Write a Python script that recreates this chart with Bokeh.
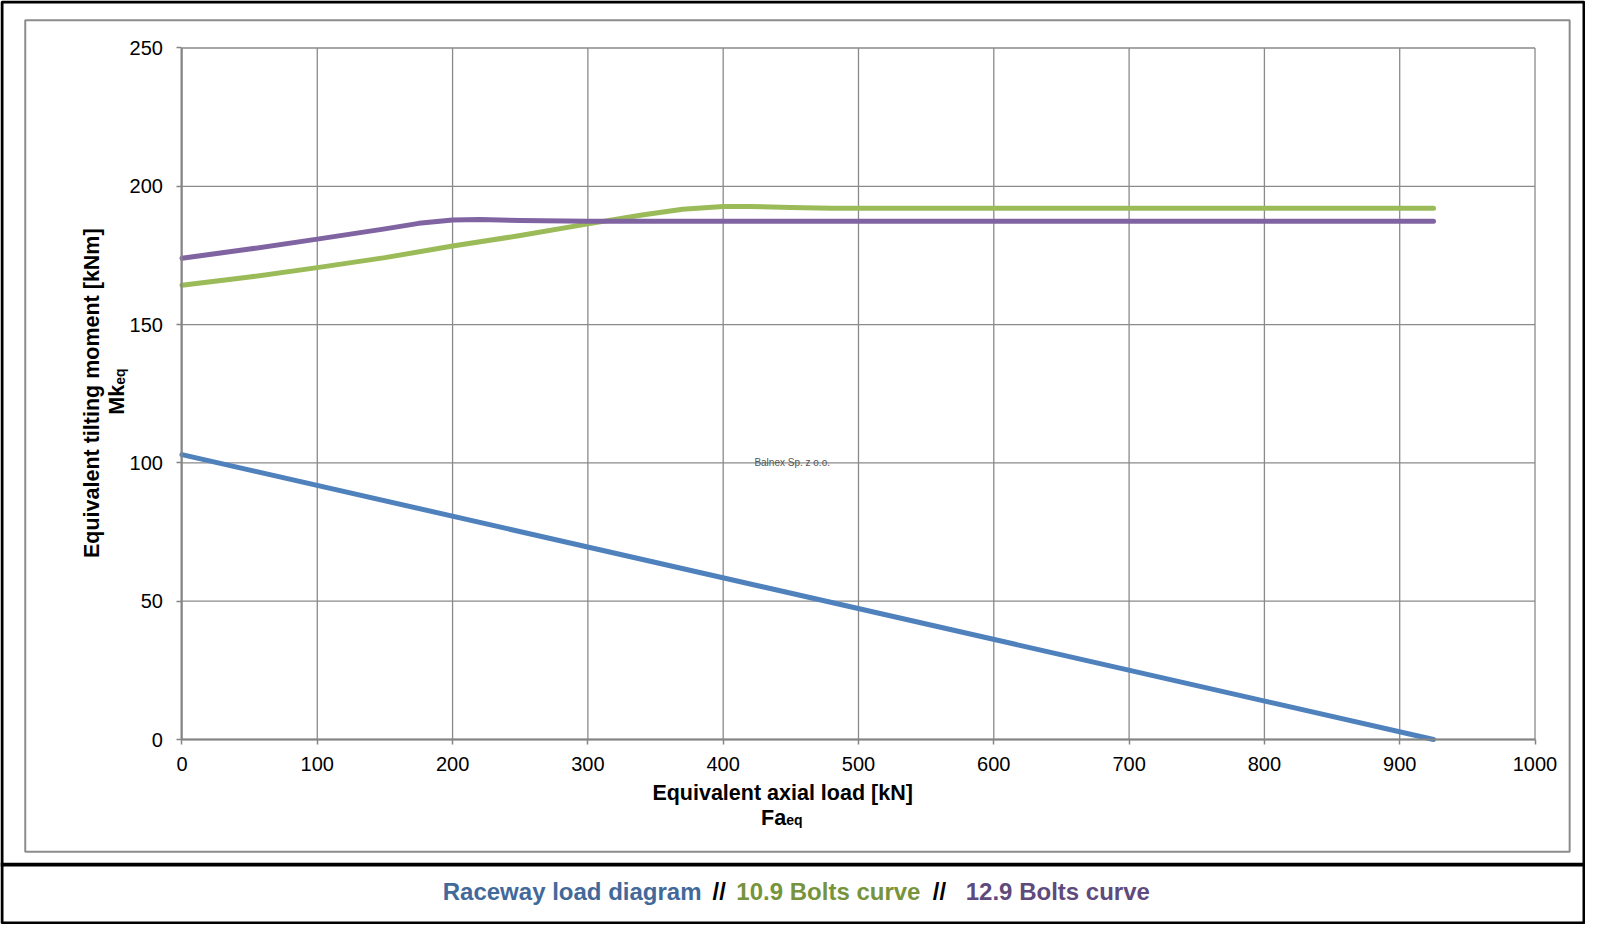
import math
from bokeh.plotting import figure
from bokeh.models import Range1d, FixedTicker, Label, BoxAnnotation, LinearAxis
from bokeh.embed import file_html
from bokeh.resources import INLINE

# ---------------- data ----------------
x_ticks = [0, 100, 200, 300, 400, 500, 600, 700, 800, 900, 1000]
y_ticks = [0, 50, 100, 150, 200, 250]

raceway_x = [0, 925]
raceway_y = [103, 0]

bolts109_x = [0, 50, 100, 150, 200, 250, 300, 340, 370, 400, 420, 450, 480, 925]
bolts109_y = [164.2, 167.2, 170.6, 174.2, 178.4, 182.2, 186.4, 189.6, 191.7, 192.7, 192.7, 192.3, 192.1, 192.1]

bolts129_x = [0, 50, 100, 150, 175, 200, 220, 250, 300, 925]
bolts129_y = [174.0, 177.3, 180.9, 184.6, 186.6, 187.8, 188.0, 187.6, 187.4, 187.4]

x_title = "Equivalent axial load [kN]"
y_title = "Equivalent tilting moment [kNm]"
legend_parts = ["Raceway load diagram", "//", "10.9 Bolts curve", "//", "12.9 Bolts curve"]
watermark = "Balnex Sp. z o.o."

# ---------------- layout (pixels) ----------------
W, H = 1585, 924
SX, SY = W / 1601.0, H / 940.0          # reference-pixel -> canvas-pixel
PX_L, PX_R = 183.3 * SX, 1550.0 * SX    # canvas x of data 0 and 1000
PX_T, PX_B = 48.3 * SY, 751.8 * SY      # canvas y of data 250 and 0
XMIN, XMAX, YMIN, YMAX = 0, 1000, 0, 250
kx = (PX_R - PX_L) / (XMAX - XMIN)
ky = (PX_B - PX_T) / (YMAX - YMIN)
x_range = Range1d(XMIN - PX_L / kx, XMAX + (W - PX_R) / kx)
y_range = Range1d(YMIN - (H - PX_B) / ky, YMAX + PX_T / ky)

FONT = "Liberation Sans"
GRID = "#8a8a8a"
AXIS = "#858585"
C_BLUE, C_GREEN, C_PURPLE = "#4F81BD", "#9BBB59", "#8064A2"
T_BLUE, T_GREEN, T_PURPLE = "#42699A", "#77933C", "#5F4A7C"
TS = 21.5   # axis title font size (px)

p = figure(width=W, height=H, output_backend="svg", toolbar_location=None,
           x_range=x_range, y_range=y_range, x_axis_type=None, y_axis_type=None,
           min_border=0, title=None)
p.background_fill_color = "white"
p.border_fill_color = "white"
p.outline_line_color = None
p.xgrid.visible = False
p.ygrid.visible = False

# grid lines (plot area only)
p.segment(x0=x_ticks, y0=[YMIN] * len(x_ticks), x1=x_ticks, y1=[YMAX] * len(x_ticks),
          line_color=GRID, line_width=1.3)
p.segment(x0=[XMIN] * len(y_ticks), y0=y_ticks, x1=[XMAX] * len(y_ticks), y1=y_ticks,
          line_color=GRID, line_width=1.3)

# axes fixed at data 0
xax = LinearAxis(ticker=FixedTicker(ticks=x_ticks), fixed_location=0, bounds=(XMIN, XMAX))
yax = LinearAxis(ticker=FixedTicker(ticks=y_ticks), fixed_location=0, bounds=(YMIN, YMAX))
for ax in (xax, yax):
    ax.axis_line_color = AXIS
    ax.axis_line_width = 2
    ax.major_tick_line_color = AXIS
    ax.major_tick_line_width = 1.5
    ax.major_tick_out = 5
    ax.major_tick_in = 0
    ax.minor_tick_line_color = None
    ax.major_label_text_font = FONT
    ax.major_label_text_font_size = "20px"
    ax.major_label_text_color = "black"
yax.major_label_standoff = 14
xax.major_label_standoff = 12
p.add_layout(xax, "below")
p.add_layout(yax, "left")

LW = 5
p.line(raceway_x, raceway_y, line_color=C_BLUE, line_width=LW, line_cap="round", line_join="round")
p.line(bolts109_x, bolts109_y, line_color=C_GREEN, line_width=LW, line_cap="round", line_join="round")
p.line(bolts129_x, bolts129_y, line_color=C_PURPLE, line_width=LW, line_cap="round", line_join="round")

p.add_layout(Label(x=451, y=100, text=watermark, text_align="center", text_baseline="middle",
                   text_font=FONT, text_font_size="10px", text_color="#555555"))

def sy(cy):
    return H - cy

def clabel(x, y, text, size, color="black", bold=True, align="left", angle=0.0):
    p.add_layout(Label(x=x, y=sy(y), x_units="screen", y_units="screen", text=text,
                       text_font=FONT, text_font_size=size, text_color=color,
                       text_font_style="bold" if bold else "normal",
                       text_align=align, text_baseline="alphabetic", angle=angle))

# y axis title (rotated)
clabel(92 * SX, 399.5 * SY, y_title, f"{TS}px", align="center", angle=math.pi / 2)
mk_w = 1.389 * TS
mk_start = 398 * SY + 23.0
clabel(118 * SX, mk_start, "Mk", f"{TS}px", angle=math.pi / 2)
clabel(118 * SX + 2.5, mk_start - mk_w, "eq", "14px", angle=math.pi / 2)
# x axis title
clabel(790 * SX, 806.7 * SY, x_title, f"{TS}px", align="center")
fa_w = 1.167 * TS
clabel(768.3 * SX, 831.7 * SY, "Fa", f"{TS}px")
clabel(768.3 * SX + fa_w, 831.7 * SY + 2.3, "eq", "14px")

# legend line
legend_x = [446.7, 719.3, 743.3, 941.7, 975.0]
legend_c = [T_BLUE, "black", T_GREEN, "black", T_PURPLE]
for lx, txt, col in zip(legend_x, legend_parts, legend_c):
    clabel(lx * SX, 906.7 * SY, txt, "24px", color=col)

def cbox(l, r, t, b, line_color=None, line_width=0, fill_color=None):
    p.add_layout(BoxAnnotation(left=l, right=r, top=sy(t), bottom=sy(b),
                               left_units="screen", right_units="screen",
                               top_units="screen", bottom_units="screen",
                               fill_color=fill_color, fill_alpha=1.0 if fill_color else 0.0,
                               line_color=line_color, line_alpha=1.0, line_width=line_width,
                               level="overlay"))

cbox(25 * SX, 1585 * SX, 20 * SY, 866 * SY, line_color="#8c8c8c", line_width=2)
cbox(0, W, 877.3 * SY, 881 * SY, fill_color="black")
cbox(1.5, W - 1.5, 1.5, H - 1.5, line_color="black", line_width=3)

open("out.html", "w").write(file_html(p, INLINE))
